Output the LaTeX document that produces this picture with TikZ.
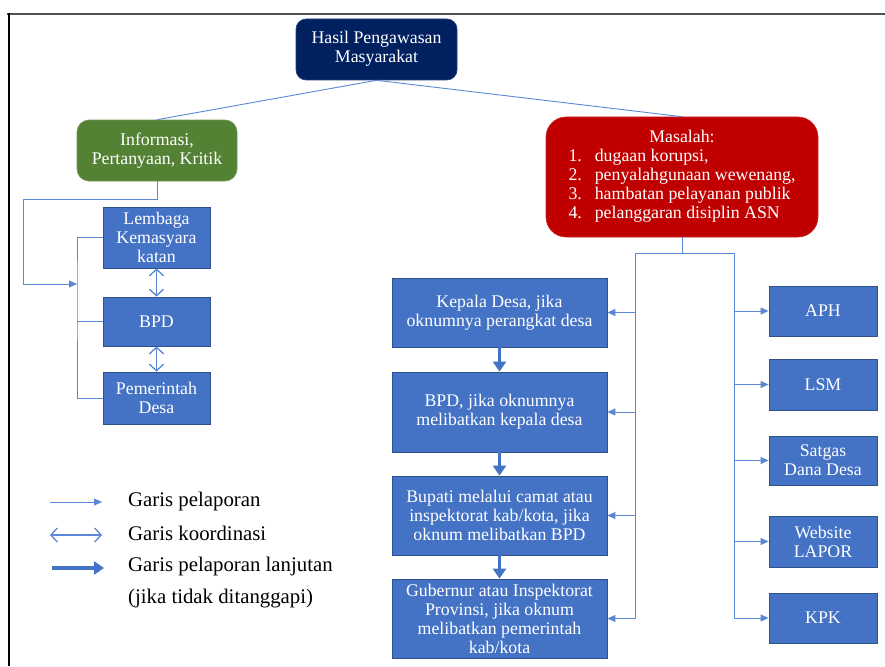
\documentclass[tikz,border=0pt]{standalone}
\usepackage{fontspec}
\setmainfont{Liberation Serif}
\usetikzlibrary{arrows.meta}
\definecolor{navy}{HTML}{002060}
\definecolor{grn}{HTML}{548235}
\definecolor{dred}{HTML}{C00000}
\definecolor{bbox}{HTML}{4472C4}
\definecolor{bedge}{HTML}{2F528F}
\definecolor{lnk}{HTML}{5B87D4}
\definecolor{framegray}{HTML}{505050}
\begin{document}
\begin{tikzpicture}[x=1pt,y=-1pt,
  every node/.style={font=\fontsize{17.8}{19}\selectfont, text=white, inner sep=2pt, align=center},
  bx/.style 2 args={minimum width=#1pt, minimum height=#2pt},
  sq/.style={rectangle, fill=bbox, draw=bedge, line width=0.8pt},
  rnd/.style={rectangle, fill=#1, draw=#1!85!white, line width=0.6pt},
  ln/.style={draw=lnk, line width=0.9pt},
  rep/.style={ln, -{Triangle[length=8pt,width=7pt]}},
  coord/.style={draw=lnk, line width=1.3pt, {Straight Barb[length=6.5pt,width=14pt]}-{Straight Barb[length=6.5pt,width=14pt]}},
  thick arrow/.style={draw=bbox, line width=3.6pt, -{Triangle[length=10pt,width=13pt]}},
  legend/.style={text=black, font=\fontsize{20.8}{24}\selectfont, anchor=west, inner sep=0pt}
]
\useasboundingbox (0,0) rectangle (885,666);
% frame
\draw[framegray, line width=2pt] (7,14) -- (885,14);
\draw[black, line width=1.4pt] (9,13) -- (9,666);

% top
\node[rnd=navy, rounded corners=10pt, bx={161}{61}] (top) at (376.5,49.5) {\raisebox{-1.5pt}{\begin{tabular}{@{}c@{}}Hasil Pengawasan\\Masyarakat\end{tabular}}};
\node[rnd=grn, rounded corners=12pt, bx={160}{61}] (green) at (157,150.5) {Informasi,\\Pertanyaan, Kritik};
\node[rnd=dred, rounded corners=20pt, bx={272}{120}] (red) at (682,177)
 {\raisebox{-3pt}{\begin{tabular}{@{}l@{\hspace{13pt}}l@{}}\multicolumn{2}{c}{Masalah:}\\
 1. & dugaan korupsi,\\
 2. & penyalahgunaan wewenang,\\
 3. & hambatan pelayanan publik\\
 4. & pelanggaran disiplin ASN\end{tabular}}};

% left column
\node[sq, bx={107}{61}] (lemb) at (156.5,237.5) {Lembaga\\Kemasyara\\katan};
\node[sq, bx={107}{49}] (bpdA) at (156.5,321.5) {BPD};
\node[sq, bx={107}{52}] (pem) at (156.5,398) {Pemerintah\\Desa};

% middle column
\node[sq, bx={215}{69}] (kep) at (499.5,312.5) {Kepala Desa, jika\\oknumnya perangkat desa};
\node[sq, bx={215}{80}] (bpdB) at (499.5,412) {BPD, jika oknumnya\\melibatkan kepala desa};
\node[sq, bx={215}{79}] (bup) at (499.5,515.5) {Bupati melalui camat atau\\inspektorat kab/kota, jika\\oknum melibatkan BPD};
\node[sq, bx={215}{79}] (gub) at (499.5,618.5) {Gubernur atau Inspektorat\\Provinsi, jika oknum\\melibatkan pemerintah\\kab/kota};

% right column
\node[sq, bx={108}{50}] (aph) at (823,311) {APH};
\node[sq, bx={108}{51}] (lsm) at (823,384.5) {LSM};
\node[sq, bx={108}{49}] (sat) at (823,460.5) {Satgas\\Dana Desa};
\node[sq, bx={108}{51}] (web) at (823,541.5) {Website\\LAPOR};
\node[sq, bx={108}{50}] (kpk) at (823,618) {KPK};

% top connectors
\draw[ln] (top.south) -- (green.north);
\draw[ln] (top.south) -- (red.north);

% green routing
\coordinate (gL) at (23,199);
\coordinate (gA) at (77,284);
\draw[rep] (green.south) |- (gL) |- (gA);
\draw[ln] (lemb.west) -| (gA) |- (pem.west);
\draw[ln] (bpdA.west) -- (bpdA.west -| gA);
\draw[coord] (lemb.south) -- (bpdA.north);
\draw[coord] (bpdA.south) -- (pem.north);

% red routing
\coordinate (rJ) at (682,253);
\coordinate (rL) at (635,253);
\coordinate (rR) at (734,253);
\draw[ln] (red.south) -- (rJ);
\draw[ln] (rL) -- (rR);
\draw[ln] (rL) -- (gub.east -| rL);
\draw[ln] (rR) -- (kpk.west -| rR);
\draw[rep] (kep.east -| rL) -- (kep.east);
\draw[rep] (bpdB.east -| rL) -- (bpdB.east);
\draw[rep] (bup.east -| rL) -- (bup.east);
\draw[rep] (gub.east -| rL) -- (gub.east);
\draw[rep] (aph.west -| rR) -- (aph.west);
\draw[rep] (lsm.west -| rR) -- (lsm.west);
\draw[rep] (sat.west -| rR) -- (sat.west);
\draw[rep] (web.west -| rR) -- (web.west);
\draw[rep] (kpk.west -| rR) -- (kpk.west);

% thick arrows
\draw[thick arrow] (kep.south) -- (bpdB.north);
\draw[thick arrow] (bpdB.south) -- (bup.north);
\draw[thick arrow] (bup.south) -- (gub.north);

% legend
\coordinate (la1) at (50,502);  \coordinate (lb1) at (102,502);
\coordinate (la2) at (50,535);  \coordinate (lb2) at (102,535);
\coordinate (la3) at (52,568);  \coordinate (lb3) at (104,568);
\draw[rep] (la1) -- (lb1);
\draw[coord] (la2) -- (lb2);
\draw[thick arrow] (la3) -- (lb3);
\node[legend] (t1) at (128,501) {Garis pelaporan};
\node[legend] (t2) at (128,533) {Garis koordinasi};
\node[legend] (t3) at (128,566) {Garis pelaporan lanjutan};
\node[legend] (t4) at (128,599) {(jika tidak ditanggapi)};
\end{tikzpicture}
\end{document}
